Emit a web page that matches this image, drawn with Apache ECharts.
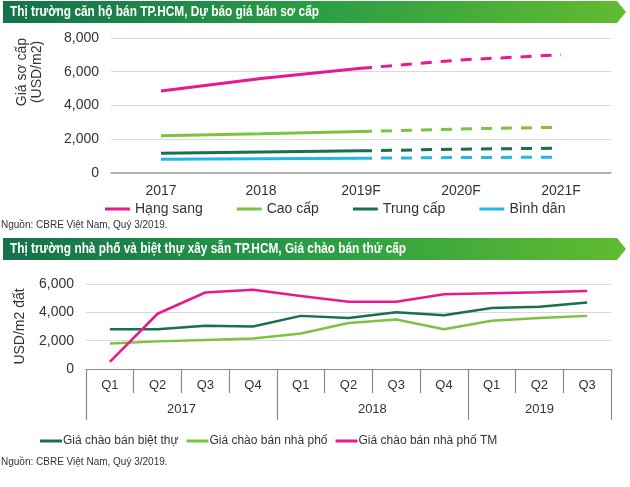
<!DOCTYPE html>
<html>
<head>
<meta charset="utf-8">
<script src="https://cdn.jsdelivr.net/npm/echarts@6/dist/echarts.min.js"></script>
<style>
html,body{margin:0;padding:0;background:#fff;}
#c{width:630px;height:487px;}
</style>
</head>
<body>
<div id="c"></div>
<script>
// ---------- Chart 1 data ----------
var title1 = 'Thị trường căn hộ bán TP.HCM, Dự báo giá bán sơ cấp';
var years1 = ['2017', '2018', '2019F', '2020F', '2021F'];
var names1 = ['Hạng sang', 'Cao cấp', 'Trung cấp', 'Bình dân'];
var hangSang = [4850, 5600, 6200, 6700, 7000];
var caoCap = [2200, 2320, 2450, 2600, 2700];
var trungCap = [1150, 1230, 1300, 1400, 1450];
var binhDan = [800, 830, 860, 900, 920];
var actualCount1 = 3; // 2017..2019F solid, 2019F..2021F dashed forecast
var yTicks1 = {min: 0, max: 8000, interval: 2000};

// ---------- Chart 2 data ----------
var title2 = 'Thị trường nhà phố và biệt thự xây sẵn TP.HCM, Giá chào bán thứ cấp';
var quarters = ['Q1', 'Q2', 'Q3', 'Q4', 'Q1', 'Q2', 'Q3', 'Q4', 'Q1', 'Q2', 'Q3'];
var yearGroups = ['2017', '2018', '2019'];
var quartersPerYear = [4, 4, 3];
var names2 = ['Giá chào bán biệt thự', 'Giá chào bán nhà phố', 'Giá chào bán nhà phố TM'];
var bietThu = [2800, 2800, 3050, 3000, 3750, 3600, 4000, 3800, 4300, 4400, 4700];
var nhaPho = [1800, 1950, 2050, 2150, 2500, 3250, 3500, 2800, 3400, 3600, 3750];
var nhaPhoTM = [500, 3900, 5400, 5600, 5150, 4750, 4750, 5270, 5340, 5410, 5500];
var yTicks2 = {min: 0, max: 6000, interval: 2000};

var sourceText = 'Nguồn: CBRE Việt Nam, Quý 3/2019.';

var colors1 = ['#e8198b', '#7dc241', '#19704f', '#23b7e5'];
var colors2 = ['#19704f', '#7dc241', '#e8198b'];

var FONT = '"Liberation Sans", Arial, sans-serif';

function solidPart(arr) {
  return arr.map(function (v, i) { return i < actualCount1 ? v : '-'; });
}
function dashPart(arr) {
  return arr.map(function (v, i) { return i >= actualCount1 - 1 ? v : '-'; });
}
var data1 = [hangSang, caoCap, trungCap, binhDan];
var series = [];
data1.forEach(function (d, i) {
  series.push({
    name: names1[i], type: 'line', xAxisIndex: 0, yAxisIndex: 0,
    data: solidPart(d), symbol: 'none', color: colors1[i],
    lineStyle: {width: 3, color: colors1[i]}, silent: true
  });
});
data1.forEach(function (d, i) {
  series.push({
    name: names1[i], type: 'line', xAxisIndex: 0, yAxisIndex: 0,
    data: dashPart(d), symbol: 'none', color: colors1[i],
    lineStyle: {width: 3, color: colors1[i], type: [11, 9]}, silent: true
  });
});
[bietThu, nhaPho, nhaPhoTM].forEach(function (d, i) {
  series.push({
    name: names2[i], type: 'line', xAxisIndex: 1, yAxisIndex: 1,
    data: d, symbol: 'none', color: colors2[i],
    lineStyle: {width: 2.5, color: colors2[i]}, silent: true
  });
});

// year group boundaries and centers (in quarter units)
var yearBounds = [0];
var yearCenters = [];
quartersPerYear.forEach(function (n, i) {
  var s = yearBounds[yearBounds.length - 1];
  yearCenters.push(s + n / 2);
  yearBounds.push(s + n);
});

function banner(y, text) {
  return [{
    type: 'polygon',
    shape: {points: [[3, y], [617, y], [626, y + 11], [617, y + 22], [3, y + 22]]},
    style: {
      fill: new echarts.graphic.LinearGradient(0, 0, 1, 0, [
        {offset: 0, color: '#15714b'},
        {offset: 0.5, color: '#2a9d45'},
        {offset: 1, color: '#62bb2f'}
      ])
    },
    silent: true
  }, {
    type: 'text', x: 10, y: y + 11, scaleX: 0.79, scaleY: 1,
    style: {text: text, fill: '#fff', font: 'bold 15px ' + FONT, textVerticalAlign: 'middle'},
    silent: true
  }];
}

var chart = echarts.init(document.getElementById('c'), null, {renderer: 'canvas'});
chart.setOption({
  animation: false,
  textStyle: {fontFamily: FONT},
  grid: [
    {left: 111, width: 500, top: 38, height: 134.7},
    {left: 86, width: 525, top: 284, height: 85}
  ],
  xAxis: [{
    type: 'category', gridIndex: 0, data: years1, boundaryGap: true,
    axisLine: {lineStyle: {color: '#a0a0a0', width: 1.5}},
    axisTick: {show: false},
    axisLabel: {color: '#333', fontSize: 14, margin: 11, fontFamily: FONT}
  }, {
    type: 'category', gridIndex: 1, data: quarters, boundaryGap: true,
    axisLine: {lineStyle: {color: '#8a8a8a', width: 1.2}},
    axisTick: {show: true, interval: 0, length: 24, lineStyle: {color: '#8a8a8a', width: 1.2}},
    axisLabel: {color: '#333', fontSize: 13, margin: 10, interval: 0, fontFamily: FONT}
  }, {
    type: 'value', gridIndex: 1, min: 0, max: quarters.length, position: 'bottom', offset: 24,
    axisLine: {show: false},
    splitLine: {show: false},
    axisTick: {show: true, customValues: yearBounds, length: 27, lineStyle: {color: '#8a8a8a', width: 1.2}},
    axisLabel: {
      customValues: yearCenters, color: '#333', fontSize: 13, margin: 10, fontFamily: FONT,
      formatter: function (v) {
        var idx = yearCenters.indexOf(v);
        return idx >= 0 ? yearGroups[idx] : '';
      }
    }
  }],
  yAxis: [{
    type: 'value', gridIndex: 0, min: yTicks1.min, max: yTicks1.max, interval: yTicks1.interval,
    axisLine: {show: false}, axisTick: {show: false},
    splitLine: {lineStyle: {color: '#d9d9d9', width: 1.2}},
    axisLabel: {color: '#333', fontSize: 14, margin: 12, fontFamily: FONT,
      formatter: function (v) { return v.toLocaleString('en-US'); }}
  }, {
    type: 'value', gridIndex: 1, min: yTicks2.min, max: yTicks2.max, interval: yTicks2.interval,
    axisLine: {show: false}, axisTick: {show: false},
    splitLine: {lineStyle: {color: '#d9d9d9', width: 1.2}},
    name: 'USD/m2 đất', nameLocation: 'middle', nameGap: 59, nameRotate: 90,
    nameTextStyle: {color: '#333', fontSize: 14, fontFamily: FONT},
    axisLabel: {color: '#333', fontSize: 14, margin: 12, fontFamily: FONT,
      formatter: function (v) { return v.toLocaleString('en-US'); }}
  }],
  legend: [{
    data: names1, left: 100, top: 197, icon: 'rect', itemWidth: 25, itemHeight: 3, itemGap: 34,
    textStyle: {color: '#333', fontSize: 14, fontFamily: FONT}, selectedMode: false
  }, {
    data: names2, left: 35, top: 430, icon: 'rect', itemWidth: 22, itemHeight: 3, itemGap: 8,
    textStyle: {color: '#333', fontSize: 12, fontFamily: FONT, padding: [0, 0, 0, -4]}, selectedMode: false
  }],
  graphic: [].concat(
    banner(1, title1),
    banner(238, title2),
    [{
      type: 'text', x: 30, y: 72, rotation: Math.PI / 2,
      style: {text: 'Giá sơ cấp\n(USD/m2)', fill: '#333', font: '14px ' + FONT,
        textAlign: 'center', textVerticalAlign: 'middle', lineHeight: 15},
      silent: true
    }, {
      type: 'text', x: 1, y: 225,
      style: {text: sourceText, fill: '#333', font: '10px ' + FONT, textVerticalAlign: 'middle'},
      silent: true
    }, {
      type: 'text', x: 1, y: 462,
      style: {text: sourceText, fill: '#333', font: '10px ' + FONT, textVerticalAlign: 'middle'},
      silent: true
    }]
  ),
  series: series
});
</script>
</body>
</html>
